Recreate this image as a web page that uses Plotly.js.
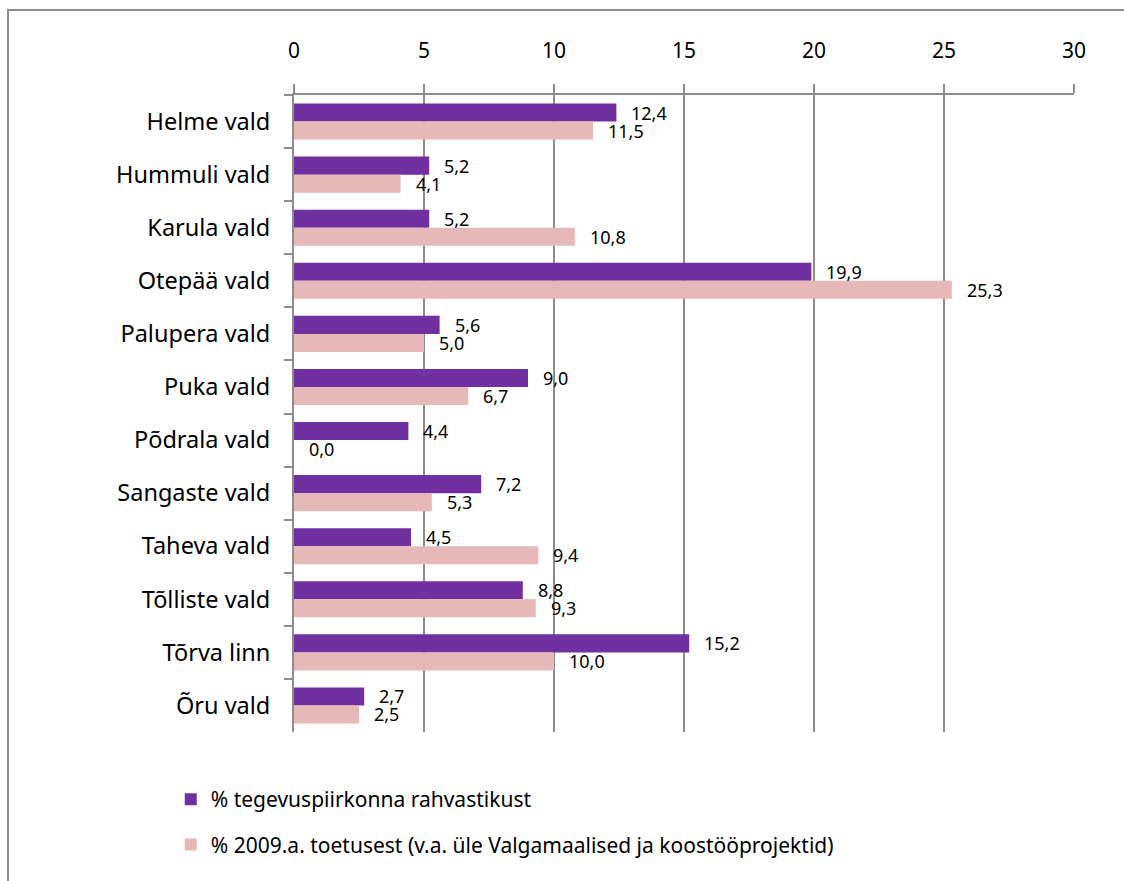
<!DOCTYPE html>
<html><head><meta charset="utf-8">
<script src="https://cdn.plot.ly/plotly-3.0.1.min.js"></script>
<style>
html,body{margin:0;padding:0;background:#fff;}
#wrap{position:relative;width:1124px;height:881px;overflow:hidden;}
#chart{position:absolute;left:0;top:0;width:1124px;height:881px;}
#frame{position:absolute;left:7px;top:9px;width:1130px;height:890px;border:2px solid #8c8c8c;pointer-events:none;box-sizing:border-box;}
</style></head>
<body>
<div id="wrap"><div id="chart"></div><div id="frame"></div></div>
<script>
const categories = ["Helme vald","Hummuli vald","Karula vald","Otepää vald","Palupera vald","Puka vald","Põdrala vald","Sangaste vald","Taheva vald","Tõlliste vald","Tõrva linn","Õru vald"];
const population = [12.4,5.2,5.2,19.9,5.6,9.0,4.4,7.2,4.5,8.8,15.2,2.7];
const support = [11.5,4.1,10.8,25.3,5.0,6.7,0.0,5.3,9.4,9.3,10.0,2.5];
const seriesNames = ["% tegevuspiirkonna rahvastikust","% 2009.a. toetusest (v.a. üle Valgamaalised ja koostööprojektid)"];
const xTicks = [0,5,10,15,20,25,30];

const font = "'Noto Sans', 'Open Sans', sans-serif";
const fmt = v => v.toFixed(1).replace('.', ',');

const traces = [
  {type:'bar', orientation:'h', y:categories, x:population, name:seriesNames[0],
   marker:{color:'#7030A0'}, legendgroup:'a', hoverinfo:'x+y'},
  {type:'bar', orientation:'h', y:categories, x:support, name:seriesNames[1],
   marker:{color:'#E6B9B8'}, legendgroup:'b', hoverinfo:'x+y'}
];

const annotations = [];
categories.forEach((c,i)=>{
  annotations.push({x:population[i], y:c, xref:'x', yref:'y', text:fmt(population[i]),
    showarrow:false, xanchor:'left', yanchor:'middle', xshift:13, yshift:9,
    font:{family:font, size:18, color:'#000'}});
  annotations.push({x:support[i], y:c, xref:'x', yref:'y', text:fmt(support[i]),
    showarrow:false, xanchor:'left', yanchor:'middle', xshift:13, yshift:-9,
    font:{family:font, size:18, color:'#000'}});
});

const layout = {
  width:1124, height:881,
  margin:{l:294, r:50, t:95, b:149},
  paper_bgcolor:'#fff', plot_bgcolor:'#fff',
  barmode:'group', bargap:0.32, bargroupgap:0,
  showlegend:true,
  legend:{orientation:'v', x:-0.158, y:-0.074, xanchor:'left', yanchor:'top',
    font:{family:font, size:21, color:'#000'}, traceorder:'grouped', tracegroupgap:15,
    itemwidth:30},
  xaxis:{side:'top', range:[0,30], tickvals:xTicks, ticktext:xTicks.map(String),
    showgrid:true, gridcolor:'#8c8c8c', gridwidth:2, zeroline:false,
    showline:true, linecolor:'#8c8c8c', linewidth:2,
    ticks:'outside', ticklen:9, tickcolor:'#8c8c8c', tickwidth:2,
    ticklabelstandoff:18,
    tickfont:{family:font, size:21, color:'#000'}, fixedrange:true},
  yaxis:{type:'category', autorange:'reversed', tickson:'boundaries',
    showline:true, linecolor:'#8c8c8c', linewidth:2,
    ticks:'outside', ticklen:8, tickcolor:'#8c8c8c', tickwidth:2,
    showgrid:false, zeroline:false, ticklabelstandoff:17,
    tickfont:{family:font, size:23.5, color:'#000'}, fixedrange:true},
  annotations:annotations
};

Plotly.newPlot('chart', traces, layout, {displayModeBar:false, staticPlot:true});
</script>
</body></html>
